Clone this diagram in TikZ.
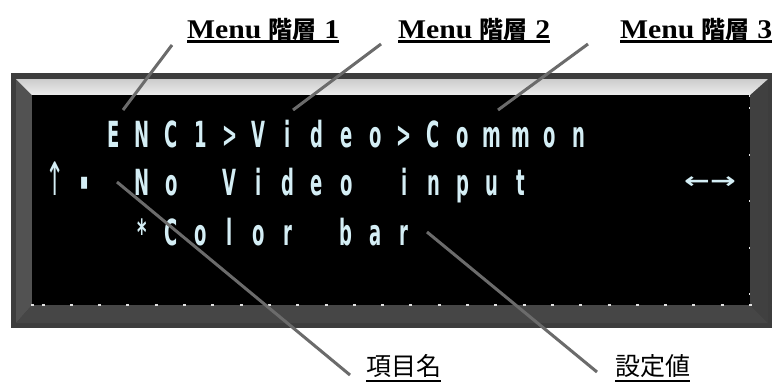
\documentclass[tikz,border=0pt]{standalone}
\usepackage{fontspec}
\setmainfont{Liberation Serif}
\newfontfamily\lcd{DejaVu Sans}[FakeStretch=0.5]
\newfontfamily\lcdw{DejaVu Sans}
\newfontfamily\cjk{Noto Sans CJK JP}
\newfontfamily\labelfont{Liberation Serif}[FakeStretch=1.1]
\definecolor{lcdtext}{HTML}{D4EEF5}
\definecolor{leader}{HTML}{6B6B6B}
\definecolor{frameout}{HTML}{3D3D3D}
\definecolor{bevleft}{HTML}{525252}
\definecolor{bevbottom}{HTML}{464646}
\definecolor{bevright}{HTML}{404040}
\definecolor{tickcol}{HTML}{E2E2E2}
\newcommand\lcdcells[1]{\lcdcellsloop#1\relax}
\def\lcdcellsloop#1{\ifx\relax#1\else\makebox[29.1pt]{#1}\expandafter\lcdcellsloop\fi}
\newcommand\uparr{{\mdseries\fontsize{46}{46}\selectfont ↑}}
\newcommand\smallsq{\raisebox{6pt}{\fontsize{24}{24}\selectfont ▪}}
\newcommand\jp[1]{{\fontsize{24}{24}\cjk\bfseries #1}}
\tikzset{
  lcdrow/.style={inner sep=0pt, text=lcdtext, anchor=base west, font=\fontsize{36}{36}\lcd\bfseries},
  toplabel/.style={inner sep=0pt, anchor=base west, font=\fontsize{27}{27}\labelfont\bfseries},
  botlabel/.style={inner sep=0pt, anchor=base west, font=\fontsize{25}{25}\cjk},
  uline/.style={line width=2.2pt, black},
  leaderline/.style={draw=leader, line width=3pt},
  tickline/.style={draw=tickcol, line width=1.3pt}
}
\begin{document}
\begin{tikzpicture}[x=1pt,y=-1pt]
\useasboundingbox[fill=white] (0,0) rectangle (776,383);
% frame
\fill[frameout] (11,73) rectangle (772,328);
\fill[bevleft] (16,79) -- (32,95) -- (32,305) -- (16,323) -- cycle;
\fill[bevbottom] (16,323) -- (32,305) -- (750,305) -- (768,323) -- cycle;
\fill[bevright] (768,79) -- (750,95) -- (750,305) -- (768,323) -- cycle;
\shade[top color=gray!40, middle color=white, bottom color=gray!15] (16,79) -- (768,79) -- (750,95) -- (32,95) -- cycle;
\fill[black] (32,95) rectangle (750,305);
% ticks
\draw[tickline, dash pattern=on 3pt off 25.3pt] (41.5,305) -- (752,305);
\draw[tickline] (31,305) -- (34,305);
\draw[tickline, dash pattern=on 2pt off 44.5pt] (749.5,107) -- (749.5,300);
\draw[tickline] (749.5,95) -- (749.5,97);
% LCD text
\node[lcdrow] (row1) at (40.45,147) {\lcdcells{~~ENC1>Video>Common}};
\node[lcdrow] (row2) at (40.45,195) {\lcdcells{\uparr\smallsq~No~Video~input}};
\node[lcdrow] (row3) at (40.45,245) {\lcdcells{~~~*Color~bar}};
\node[inner sep=0pt, text=lcdtext, anchor=base] (arrows) at (710,188) {\scalebox{1.4}[1]{\fontsize{22}{22}\lcdw\bfseries ←→}};
% labels
\node[toplabel] (m1) at (187,38) {Menu \jp{階層} 1};
\node[toplabel] (m2) at (398,38) {Menu \jp{階層} 2};
\node[toplabel] (m3) at (620,38) {Menu \jp{階層} 3};
\node[botlabel] (item) at (366,375) {項目名};
\node[botlabel] (value) at (615,375) {設定値};
\foreach \n in {m1,m2,m3} \draw[uline] ([yshift=-3.5pt]\n.base west) -- ([yshift=-3.5pt]\n.base east);
\foreach \n in {item,value} \draw[uline] ([yshift=-6pt]\n.base west) -- ([yshift=-6pt]\n.base east);
% leader lines
\coordinate (p1) at (123,110); \coordinate (q1) at (172,45);
\coordinate (p2) at (293,110); \coordinate (q2) at (381,44);
\coordinate (p3) at (498,110); \coordinate (q3) at (588,44);
\coordinate (p4) at (117,182); \coordinate (q4) at (350,375);
\coordinate (p5) at (427,232); \coordinate (q5) at (597,372);
\foreach \i in {1,...,5} \draw[leaderline] (p\i) -- (q\i);
\end{tikzpicture}
\end{document}
